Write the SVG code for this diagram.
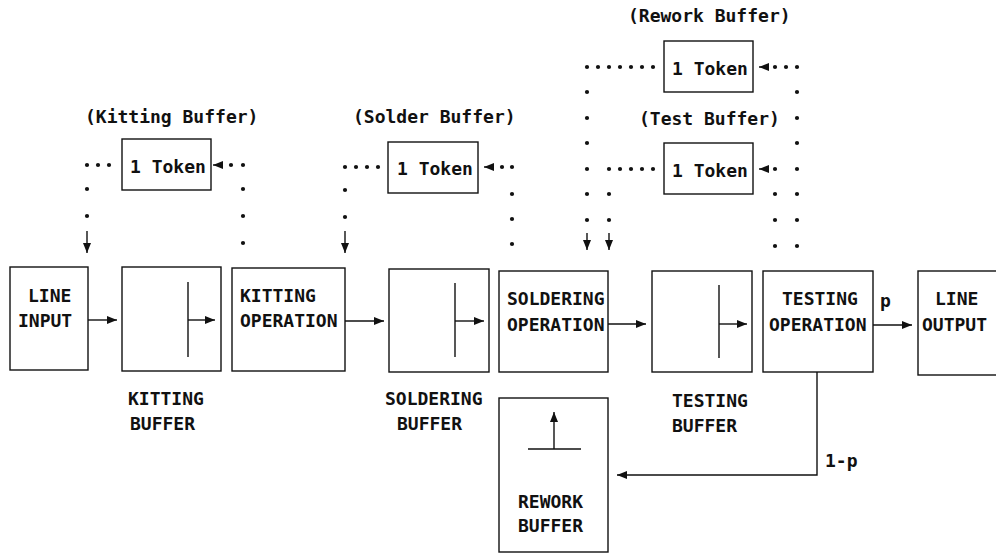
<svg xmlns="http://www.w3.org/2000/svg" width="996" height="553" viewBox="0 0 996 553">
  <style>
    text { font-family: "DejaVu Sans Mono", "Liberation Mono", monospace; font-size: 18px; font-weight: bold; fill: #111; }
    .box { fill: #fff; stroke: #111; stroke-width: 1.4; }
    .ln { fill: none; stroke: #111; stroke-width: 1.4; }
    .dot { fill: #111; }
    .head { fill: #111; }
  </style>
  <defs>
    <circle id="d" r="2.1" class="dot"/>
    <marker id="ah" viewBox="0 0 10 8" refX="10" refY="4" markerWidth="10" markerHeight="8" markerUnits="userSpaceOnUse" orient="auto">
      <path d="M0,0 L10,4 L0,8 Z" class="head"/>
    </marker>
  </defs>

  <rect width="996" height="553" fill="#fff"/>

  <!-- token places -->
  <g id="kitting-token">
    <text x="85" y="123">(Kitting Buffer)</text>
    <rect class="box" x="122" y="139" width="89" height="51"/>
    <text x="130" y="173">1 Token</text>
  </g>
  <g id="solder-token">
    <text x="353" y="123">(Solder Buffer)</text>
    <rect class="box" x="388" y="142" width="90" height="51"/>
    <text x="397" y="175">1 Token</text>
  </g>
  <g id="rework-token">
    <text x="628" y="22">(Rework Buffer)</text>
    <rect class="box" x="664" y="41" width="89" height="51"/>
    <text x="672" y="75">1 Token</text>
  </g>
  <g id="test-token">
    <text x="639" y="125">(Test Buffer)</text>
    <rect class="box" x="664" y="143" width="89" height="51"/>
    <text x="672" y="177">1 Token</text>
  </g>

  <!-- main line stations -->
  <g id="line-input">
    <rect class="box" x="10" y="267" width="78" height="103"/>
    <text x="28" y="302">LINE</text>
    <text x="18" y="327">INPUT</text>
  </g>
  <g id="kitting-buffer">
    <rect class="box" x="122" y="267" width="99" height="104"/>
    <path class="ln" d="M188,282 V357"/>
    <path class="ln" d="M188,320 H215" marker-end="url(#ah)"/>
    <text x="128" y="405">KITTING</text>
    <text x="130" y="430">BUFFER</text>
  </g>
  <g id="kitting-operation">
    <rect class="box" x="232" y="268" width="113" height="103"/>
    <text x="240" y="302">KITTING</text>
    <text x="240" y="327">OPERATION</text>
  </g>
  <g id="soldering-buffer">
    <rect class="box" x="389" y="269" width="100" height="103"/>
    <path class="ln" d="M455,283 V357"/>
    <path class="ln" d="M455,321 H484" marker-end="url(#ah)"/>
    <text x="385" y="405">SOLDERING</text>
    <text x="397" y="430">BUFFER</text>
  </g>
  <g id="soldering-operation">
    <rect class="box" x="499" y="271" width="109" height="101"/>
    <text x="507" y="305">SOLDERING</text>
    <text x="507" y="331">OPERATION</text>
  </g>
  <g id="testing-buffer">
    <rect class="box" x="652" y="271" width="100" height="101"/>
    <path class="ln" d="M719,285 V358"/>
    <path class="ln" d="M719,324 H747" marker-end="url(#ah)"/>
    <text x="672" y="407">TESTING</text>
    <text x="672" y="432">BUFFER</text>
  </g>
  <g id="testing-operation">
    <rect class="box" x="763" y="271" width="110" height="101"/>
    <text x="782" y="305">TESTING</text>
    <text x="769" y="331">OPERATION</text>
  </g>
  <g id="line-output">
    <rect class="box" x="918" y="271" width="80" height="104"/>
    <text x="935" y="305">LINE</text>
    <text x="922" y="331">OUTPUT</text>
  </g>
  <g id="rework-buffer">
    <rect class="box" x="499" y="398" width="109" height="154"/>
    <path class="ln" d="M528,449 H581"/>
    <path class="ln" d="M554,449 V412" marker-end="url(#ah)"/>
    <text x="518" y="508">REWORK</text>
    <text x="518" y="532">BUFFER</text>
  </g>

  <!-- connectors -->
  <g id="connectors">
    <!-- material flow -->
    <path class="ln" d="M88,320 H117" marker-end="url(#ah)"/>
    <path class="ln" d="M345,321 H384" marker-end="url(#ah)"/>
    <path class="ln" d="M608,324 H646" marker-end="url(#ah)"/>
    <path class="ln" d="M873,325 H912" marker-end="url(#ah)"/>
    <text x="880" y="307">p</text>
    <path class="ln" d="M817,372 V475 H617" marker-end="url(#ah)"/>
    <text x="825" y="467">1-p</text>

    <!-- kitting token loop -->
    <use href="#d" x="87" y="165"/><use href="#d" x="98" y="165"/><use href="#d" x="109" y="165"/>
    <use href="#d" x="87" y="189"/><use href="#d" x="87" y="216"/>
    <path class="ln" d="M87,231 V253" marker-end="url(#ah)"/>
    <path class="ln" d="M222,165 H213" marker-end="url(#ah)"/>
    <use href="#d" x="231" y="165"/><use href="#d" x="243" y="165"/>
    <use href="#d" x="243" y="189"/><use href="#d" x="243" y="216"/><use href="#d" x="243" y="243"/>

    <!-- solder token loop -->
    <use href="#d" x="345" y="167"/><use href="#d" x="356" y="167"/><use href="#d" x="367" y="167"/><use href="#d" x="378" y="167"/>
    <use href="#d" x="345" y="190"/><use href="#d" x="345" y="217"/>
    <path class="ln" d="M345,231 V253" marker-end="url(#ah)"/>
    <path class="ln" d="M492,167 H484" marker-end="url(#ah)"/>
    <use href="#d" x="502" y="167"/><use href="#d" x="512" y="167"/>
    <use href="#d" x="512" y="194"/><use href="#d" x="512" y="219"/><use href="#d" x="512" y="244"/>

    <!-- rework token loop -->
    <use href="#d" x="587" y="67"/><use href="#d" x="598" y="67"/><use href="#d" x="609" y="67"/><use href="#d" x="620" y="67"/>
    <use href="#d" x="631" y="67"/><use href="#d" x="642" y="67"/><use href="#d" x="653" y="67"/>
    <use href="#d" x="587" y="92"/><use href="#d" x="587" y="118"/><use href="#d" x="587" y="143"/>
    <use href="#d" x="587" y="169"/><use href="#d" x="587" y="194"/><use href="#d" x="587" y="220"/>
    <path class="ln" d="M587,233 V250" marker-end="url(#ah)"/>
    <path class="ln" d="M767,67 H759" marker-end="url(#ah)"/>
    <use href="#d" x="775" y="67"/><use href="#d" x="786" y="67"/><use href="#d" x="797" y="67"/>
    <use href="#d" x="797" y="92"/><use href="#d" x="797" y="118"/><use href="#d" x="797" y="143"/>
    <use href="#d" x="797" y="169"/><use href="#d" x="797" y="194"/><use href="#d" x="797" y="220"/><use href="#d" x="797" y="246"/>

    <!-- test token loop -->
    <use href="#d" x="609" y="169"/><use href="#d" x="620" y="169"/><use href="#d" x="631" y="169"/>
    <use href="#d" x="642" y="169"/><use href="#d" x="653" y="169"/>
    <use href="#d" x="609" y="194"/><use href="#d" x="609" y="220"/>
    <path class="ln" d="M609,233 V250" marker-end="url(#ah)"/>
    <path class="ln" d="M767,169 H759" marker-end="url(#ah)"/>
    <use href="#d" x="775" y="169"/>
    <use href="#d" x="775" y="194"/><use href="#d" x="775" y="220"/><use href="#d" x="775" y="246"/>
  </g>
</svg>
